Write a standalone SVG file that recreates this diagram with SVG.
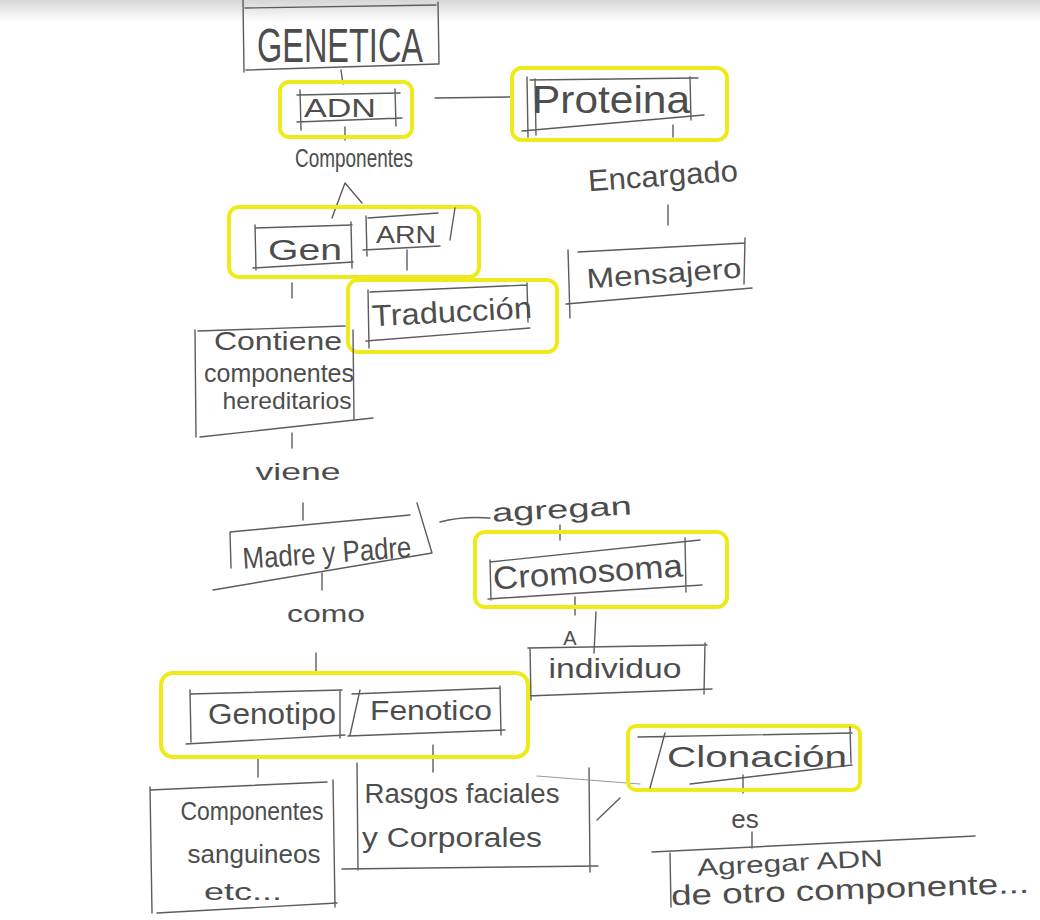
<svg xmlns="http://www.w3.org/2000/svg" width="1040" height="920" viewBox="0 0 1040 920">
  <defs>
    <linearGradient id="shade" x1="0" y1="0" x2="0" y2="1">
      <stop offset="0" stop-color="#d6d6d6"/>
      <stop offset="1" stop-color="#ffffff"/>
    </linearGradient>
    <style>
      .pen { fill: none; stroke: #5c5c5c; stroke-width: 1.4; stroke-linecap: round; }
      .faint { fill: none; stroke: #9a9a9a; stroke-width: 1.2; stroke-linecap: round; }
      .hl { fill: none; stroke: #eeea1c; stroke-width: 4; }
      .t { font-family: "Liberation Sans", "DejaVu Sans", sans-serif; fill: #4d4d4d; text-anchor: middle; }
    </style>
  </defs>

  <!-- paper -->
  <rect x="0" y="0" width="1040" height="920" fill="#ffffff"/>
  <rect x="0" y="0" width="1040" height="22" fill="url(#shade)"/>

  <!-- connectors -->
  <g id="connectors" class="pen">
    <path d="M341,70 L343,84"/>
    <path d="M435,98 L510,97"/>
    <path d="M345,127 L345,140"/>
    <path d="M673,125 L673,137"/>
    <path d="M668,205 L668,225"/>
    <path d="M345,183 L332,218 M345,183 L362,203"/>
    <path d="M407,250 L407,270"/>
    <path d="M292,283 L292,298"/>
    <path d="M292,433 L292,448"/>
    <path d="M303,503 L303,520"/>
    <path d="M440,522 Q462,516 490,518"/>
    <path d="M560,525 L560,540"/>
    <path d="M322,573 L322,590"/>
    <path d="M316,653 L316,673"/>
    <path d="M575,597 L575,615"/>
    <path d="M596,612 L594,653"/>
    <path d="M258,757 L258,777"/>
    <path d="M433,745 L433,772"/>
    <path d="M597,820 L620,798"/>
    <path d="M743,775 L743,793"/>
    <path d="M752,832 L752,848"/>
  </g>

  <g id="genetica">
    <path class="pen" d="M243,0 L244,72 M438,2 L439,64 M246,70 L438,64 M245,8 L436,5"/>
    <text class="t" x="340" y="62" font-size="48" textLength="166" lengthAdjust="spacingAndGlyphs">GENETICA</text>
  </g>

  <g id="adn">
    <rect class="hl" x="280" y="82" width="132" height="55" rx="9"/>
    <path class="pen" d="M300,90 L301,130 M297,95 L400,93 M297,122 L402,118 M395,89 L396,126"/>
    <text class="t" x="340" y="117" font-size="26" textLength="72" lengthAdjust="spacingAndGlyphs">ADN</text>
  </g>

  <g id="proteina">
    <rect class="hl" x="512" y="68" width="215" height="72" rx="10"/>
    <path class="pen" d="M527,77 L528,137 M535,79 L536,135 M522,131 L704,115 M530,80 L698,78 M690,77 L691,120"/>
    <text class="t" x="611" y="113" font-size="38" textLength="158" lengthAdjust="spacingAndGlyphs">Proteina</text>
  </g>

  <g id="encargado">
    <text class="t" x="663" y="186" font-size="30" textLength="150" lengthAdjust="spacingAndGlyphs" transform="rotate(-4 663 178)">Encargado</text>
  </g>

  <g id="mensajero">
    <path class="pen" d="M568,250 L570,318 M578,252 L745,243 M566,304 L752,288 M745,238 L744,284"/>
    <text class="t" x="664" y="283" font-size="28" textLength="155" lengthAdjust="spacingAndGlyphs" transform="rotate(-4 664 276)">Mensajero</text>
  </g>

  <g id="componentes">
    <text class="t" x="354" y="167" font-size="26" textLength="118" lengthAdjust="spacingAndGlyphs">Componentes</text>
  </g>

  <g id="gen-arn">
    <rect class="hl" x="229" y="207" width="250" height="70" rx="10"/>
  </g>

  <g id="gen">
    <path class="pen" d="M255,225 L256,270 M351,222 L352,268 M255,228 L352,225 M253,268 L353,262"/>
    <text class="t" x="305" y="260" font-size="30" textLength="74" lengthAdjust="spacingAndGlyphs">Gen</text>
  </g>

  <g id="arn">
    <path class="pen" d="M366,216 L367,256 M368,218 L438,213 M363,250 L440,246 M455,208 L450,240"/>
    <text class="t" x="406" y="243" font-size="24" textLength="60" lengthAdjust="spacingAndGlyphs">ARN</text>
  </g>

  <g id="traduccion">
    <rect class="hl" x="348" y="280" width="209" height="72" rx="10"/>
    <path class="pen" d="M368,290 L369,348 M370,292 L527,285 M366,341 L530,328 M527,283 L528,322"/>
    <text class="t" x="452" y="322" font-size="30" textLength="160" lengthAdjust="spacingAndGlyphs" transform="rotate(-3 452 314)">Traducción</text>
  </g>

  <g id="contiene">
    <path class="pen" d="M195,330 L196,437 M353,330 L354,420 M198,331 L345,326 M200,437 L373,418"/>
    <text class="t" x="278" y="350" font-size="25" textLength="128" lengthAdjust="spacingAndGlyphs">Contiene</text>
    <text class="t" x="279" y="382" font-size="26" textLength="150" lengthAdjust="spacingAndGlyphs">componentes</text>
    <text class="t" x="287" y="409" font-size="24" textLength="129" lengthAdjust="spacingAndGlyphs">hereditarios</text>
  </g>

  <g id="viene">
    <text class="t" x="298" y="480" font-size="24" textLength="85" lengthAdjust="spacingAndGlyphs">viene</text>
  </g>

  <g id="madre-padre">
    <path class="pen" d="M230,532 L410,515 M230,532 L231,568 M213,590 L432,553 M417,503 L432,553"/>
    <text class="t" x="327" y="563" font-size="30" textLength="169" lengthAdjust="spacingAndGlyphs" transform="rotate(-4 327 555)">Madre y Padre</text>
  </g>

  <g id="agregan">
    <text class="t" x="562" y="518" font-size="26" textLength="140" lengthAdjust="spacingAndGlyphs" transform="rotate(-3 562 512)">agregan</text>
  </g>

  <g id="cromosoma">
    <rect class="hl" x="475" y="532" width="252" height="75" rx="10"/>
    <path class="pen" d="M490,560 L491,600 M490,562 L700,540 M488,599 L702,585 M685,538 L686,592"/>
    <text class="t" x="588" y="583" font-size="32" textLength="190" lengthAdjust="spacingAndGlyphs" transform="rotate(-4 588 575)">Cromosoma</text>
  </g>

  <g id="a">
    <text class="t" x="570" y="645" font-size="20">A</text>
  </g>

  <g id="individuo">
    <path class="pen" d="M528,648 L707,645 M530,648 L531,700 M705,643 L704,694 M527,696 L712,689"/>
    <text class="t" x="615" y="678" font-size="28" textLength="133" lengthAdjust="spacingAndGlyphs">individuo</text>
  </g>

  <g id="como">
    <text class="t" x="326" y="622" font-size="24" textLength="78" lengthAdjust="spacingAndGlyphs">como</text>
  </g>

  <g id="genotipo-fenotico">
    <rect class="hl" x="161" y="673" width="367" height="84" rx="12"/>
  </g>

  <g id="genotipo">
    <path class="pen" d="M190,690 L191,742 M190,694 L342,690 M186,744 L345,735 M340,690 L340,738"/>
    <text class="t" x="272" y="724" font-size="30" textLength="128" lengthAdjust="spacingAndGlyphs">Genotipo</text>
  </g>

  <g id="fenotico">
    <path class="pen" d="M360,690 L350,735 M352,694 L500,688 M500,686 L501,735 M348,736 L505,730"/>
    <text class="t" x="431" y="720" font-size="28" textLength="122" lengthAdjust="spacingAndGlyphs">Fenotico</text>
  </g>

  <g id="sanguineos">
    <path class="pen" d="M150,787 L152,913 M333,780 L335,907 M150,790 L327,782 M157,913 L337,903"/>
    <text class="t" x="252" y="820" font-size="25" textLength="143" lengthAdjust="spacingAndGlyphs">Componentes</text>
    <text class="t" x="254" y="863" font-size="25" textLength="133" lengthAdjust="spacingAndGlyphs">sanguineos</text>
    <text class="t" x="243" y="900" font-size="24" textLength="78" lengthAdjust="spacingAndGlyphs">etc...</text>
  </g>

  <g id="rasgos">
    <path class="pen" d="M357,763 L358,870 M589,768 L590,872 M342,869 L598,866"/>
    <path class="faint" d="M537,776 L640,784"/>
    <text class="t" x="462" y="803" font-size="27" textLength="195" lengthAdjust="spacingAndGlyphs">Rasgos faciales</text>
    <text class="t" x="452" y="847" font-size="27" textLength="180" lengthAdjust="spacingAndGlyphs">y Corporales</text>
  </g>

  <g id="clonacion">
    <rect class="hl" x="628" y="726" width="232" height="64" rx="8"/>
    <path class="pen" d="M638,737 L852,733 M650,788 L665,733 M850,727 L851,763 M690,784 L852,765"/>
    <text class="t" x="757" y="767" font-size="30" textLength="180" lengthAdjust="spacingAndGlyphs">Clonación</text>
  </g>

  <g id="es">
    <text class="t" x="745" y="828" font-size="26">es</text>
  </g>

  <g id="agregar">
    <path class="pen" d="M652,852 L975,836 M670,853 L671,907"/>
    <text class="t" x="790" y="871" font-size="24" textLength="186" lengthAdjust="spacingAndGlyphs" transform="rotate(-3 790 864)">Agregar ADN</text>
    <text class="t" x="850" y="899" font-size="28" textLength="358" lengthAdjust="spacingAndGlyphs" transform="rotate(-2 850 891)">de otro componente...</text>
  </g>
</svg>
